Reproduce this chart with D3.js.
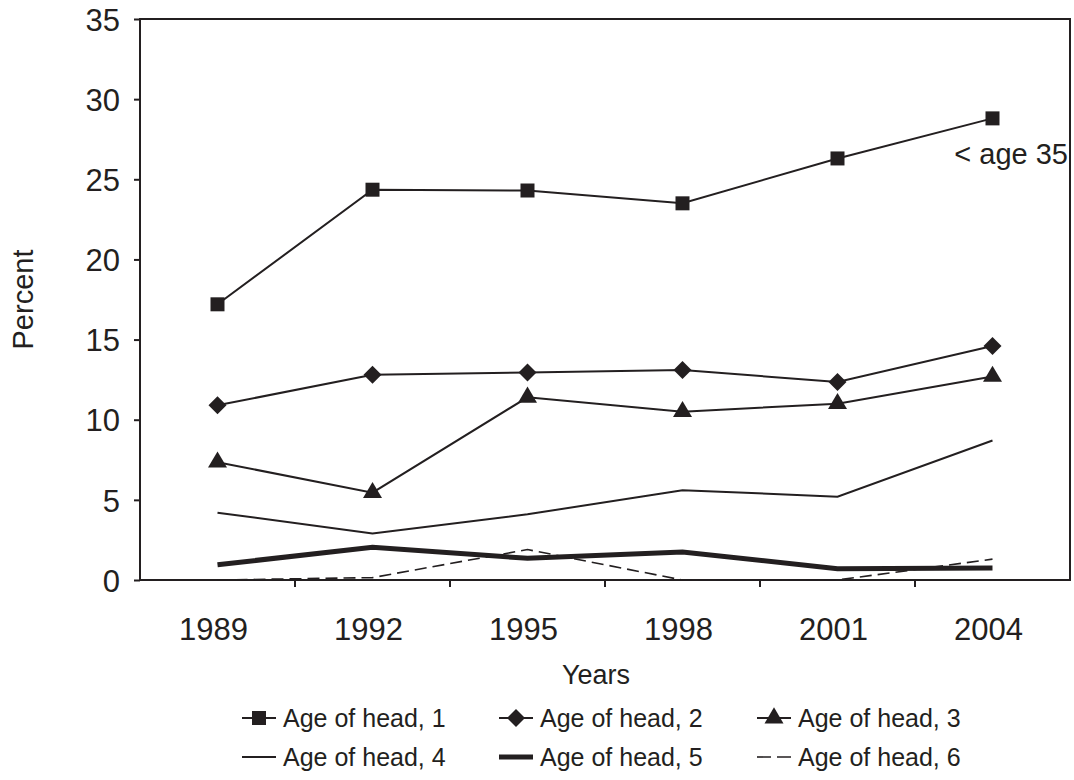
<!DOCTYPE html>
<html>
<head>
<meta charset="utf-8">
<script src="https://cdn.jsdelivr.net/npm/d3@7"></script>
<style>
  body { margin: 0; background: #fff; }
  svg text { font-family: "Liberation Sans", Arial, sans-serif; fill: #231f20; }
</style>
</head>
<body>
<svg id="chart" width="1074" height="780"></svg>
<script>
// data
const years = ["1989", "1992", "1995", "1998", "2001", "2004"];
const head1 = [17.2, 24.35, 24.3, 23.5, 26.3, 28.8];
const head2 = [10.9, 12.8, 12.95, 13.1, 12.35, 14.6];
const head3 = [7.35, 5.45, 11.4, 10.5, 11.0, 12.7];
const head4 = [4.2, 2.9, 4.1, 5.6, 5.2, 8.7];
const head5 = [0.95, 2.05, 1.35, 1.75, 0.7, 0.75];
const head6 = [0, 0.15, 1.9, 0, 0, 1.3];
const seriesNames = ["Age of head, 1", "Age of head, 2", "Age of head, 3",
                     "Age of head, 4", "Age of head, 5", "Age of head, 6"];
const yTicks = [0, 5, 10, 15, 20, 25, 30, 35];

const ink = "#231f20";

// how each series is drawn
const styles = [
    { values: head1, width: 2, dash: null, marker: "square" },
    { values: head2, width: 2, dash: null, marker: "diamond" },
    { values: head3, width: 2, dash: null, marker: "triangle" },
    { values: head4, width: 2, dash: null, marker: null },
    { values: head5, width: 5, dash: null, marker: null },
    { values: head6, width: 1.6, dash: "12,6", marker: null }
];

const svg = d3.select("#chart");
const plotLeft = 140, plotRight = 1070, plotTop = 19, plotBottom = 580;

const x = d3.scaleBand()
    .domain(years)
    .range([plotLeft, plotRight]);

const y = d3.scaleLinear()
    .domain([0, 35])
    .range([plotBottom, plotTop]);

const cx = d => x(d) + x.bandwidth() / 2;

// y axis
const yAxis = svg.append("g")
    .attr("transform", `translate(${plotLeft},0)`)
    .call(d3.axisLeft(y).tickValues(yTicks).tickSize(6).tickPadding(14));
yAxis.select(".domain").remove();
yAxis.selectAll("line").attr("stroke", ink).attr("stroke-width", 2);
yAxis.selectAll("text")
    .style("font-size", "31px")
    .attr("dy", "0.36em");

// x axis: ticks between the categories, labels under each
const xg = svg.append("g");
xg.selectAll("line")
    .data(years.slice(1))
    .enter()
    .append("line")
    .attr("x1", d => x(d)).attr("x2", d => x(d))
    .attr("y1", plotBottom).attr("y2", plotBottom + 7)
    .attr("stroke", ink).attr("stroke-width", 2);
xg.selectAll("text")
    .data(years)
    .enter()
    .append("text")
    .attr("x", d => cx(d) - 4)
    .attr("y", plotBottom + 60)
    .attr("text-anchor", "middle")
    .style("font-size", "31px")
    .text(d => d);

// frame
svg.append("rect")
    .attr("x", plotLeft).attr("y", plotTop)
    .attr("width", plotRight - plotLeft).attr("height", plotBottom - plotTop)
    .attr("fill", "none")
    .attr("stroke", ink)
    .attr("stroke-width", 2);

// axis titles
svg.append("text")
    .attr("transform", `translate(33,${(plotTop + plotBottom) / 2}) rotate(-90)`)
    .attr("text-anchor", "middle")
    .style("font-size", "29px")
    .text("Percent");

svg.append("text")
    .attr("x", 596)
    .attr("y", 684)
    .attr("text-anchor", "middle")
    .style("font-size", "27px")
    .text("Years");

// marker shapes
function markerPath(type, size) {
    if (type === "square") return d3.symbol().type(d3.symbolSquare).size(size * size)();
    if (type === "diamond") {
        const h = size / 2;
        return `M0,${-h}L${h},0L0,${h}L${-h},0Z`;
    }
    if (type === "triangle") {
        const h = size * 0.85, w = size / 2;
        return `M0,${-h * 2 / 3}L${w},${h / 3}L${-w},${h / 3}Z`;
    }
    return null;
}
const markerSize = { square: 14, diamond: 18, triangle: 19 };

const line = d3.line()
    .x(d => cx(d.year))
    .y(d => y(d.value));

// series (drawn bottom-up so markers sit on top)
styles.slice().reverse().forEach(s => {
    const pts = years.map((yr, i) => ({ year: yr, value: s.values[i] }));
    svg.append("path")
        .datum(pts)
        .attr("d", line)
        .attr("fill", "none")
        .attr("stroke", ink)
        .attr("stroke-width", s.width)
        .attr("stroke-dasharray", s.dash)
        .attr("stroke-linejoin", "miter");
    if (s.marker) {
        svg.append("g").selectAll("path")
            .data(pts)
            .enter()
            .append("path")
            .attr("transform", d => `translate(${cx(d.year)},${y(d.value)})`)
            .attr("d", markerPath(s.marker, markerSize[s.marker]))
            .attr("fill", ink);
    }
});

// annotation on the top series
svg.append("text")
    .attr("x", plotRight - 2)
    .attr("y", y(head1[5]) + 46)
    .attr("text-anchor", "end")
    .style("font-size", "29px")
    .text("< age 35");

// legend, 3 columns x 2 rows
const legend = svg.append("g");
const colX = [242, 499, 757];
const rowY = [718, 757];
const items = legend.selectAll("g")
    .data(styles)
    .enter()
    .append("g")
    .attr("transform", (d, i) => `translate(${colX[i % 3]},${rowY[Math.floor(i / 3)]})`);

items.append("line")
    .attr("x1", 0).attr("x2", 34)
    .attr("y1", 0).attr("y2", 0)
    .attr("stroke", ink)
    .attr("stroke-width", d => d.width)
    .attr("stroke-dasharray", d => d.dash ? "14,6" : null);

items.filter(d => d.marker)
    .append("path")
    .attr("transform", "translate(17,0)")
    .attr("d", d => markerPath(d.marker, markerSize[d.marker]))
    .attr("fill", ink);

items.append("text")
    .attr("x", 41)
    .attr("y", 0)
    .attr("dy", "0.36em")
    .style("font-size", "25px")
    .text((d, i) => seriesNames[i]);
</script>
</body>
</html>
